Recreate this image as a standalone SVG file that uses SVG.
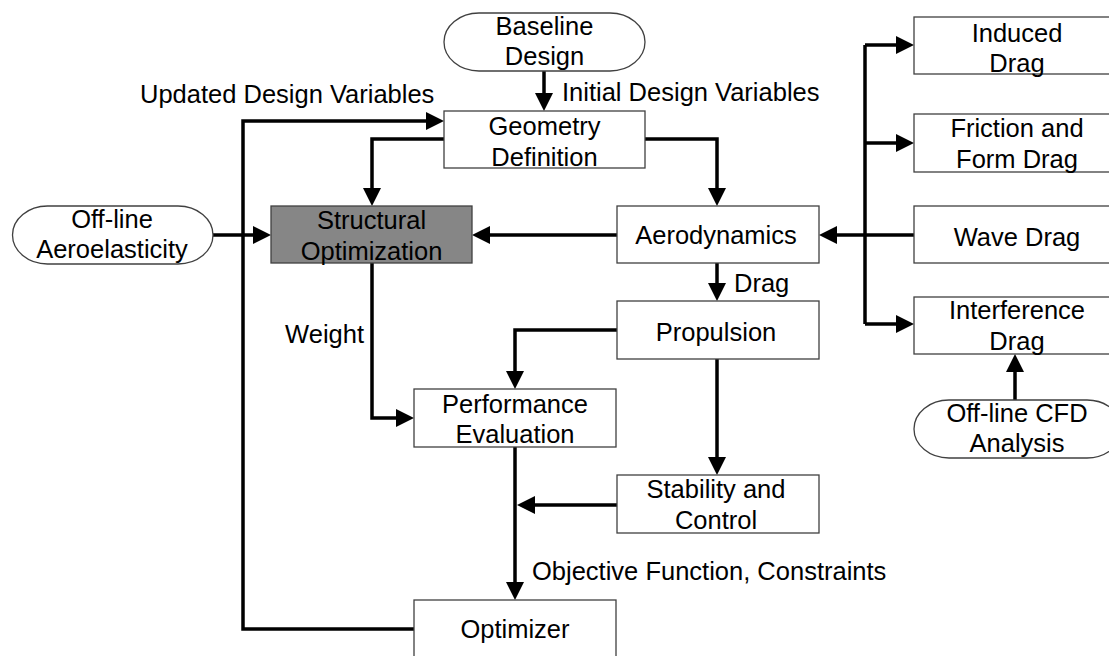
<svg xmlns="http://www.w3.org/2000/svg" width="1109" height="656" viewBox="0 0 1109 656">
<style>
text{font-family:"Liberation Sans",Arial,sans-serif;font-size:25.5px;fill:#000}
.n text{text-anchor:middle}
.box{fill:#fff;stroke:#404040;stroke-width:1.3}
.gray{fill:#868686;stroke:#404040;stroke-width:1.3}
.c path{fill:none;stroke:#000;stroke-width:3.5}
.a{marker-end:url(#ah)}
</style>
<defs>
<marker id="ah" markerUnits="userSpaceOnUse" markerWidth="18" markerHeight="18" refX="14" refY="9" orient="auto">
<path d="M0,0 L18,9 L0,18 z" fill="#000"/>
</marker>
</defs>
<rect width="1109" height="656" fill="#fff"/>
<g id="connectors" class="c">
<path class="a" d="M544,71 V107"/>
<path class="a" d="M414,629 H243 V121 H440"/>
<path class="a" d="M444,139 H372 V202"/>
<path class="a" d="M645,139 H717 V202"/>
<path class="a" d="M617,235 H476"/>
<path class="a" d="M213,235 H267"/>
<path class="a" d="M372,263 V418 H410"/>
<path class="a" d="M717,263 V297"/>
<path class="a" d="M617,330 H515 V385"/>
<path class="a" d="M717,359 V471"/>
<path class="a" d="M617,505 H521"/>
<path class="a" d="M515,447 V596"/>
<path class="a" d="M914,235 H823"/>
<path d="M865,45 V324"/>
<path class="a" d="M865,45 H910"/>
<path class="a" d="M865,143 H910"/>
<path class="a" d="M865,324 H910"/>
<path class="a" d="M1015,400 V358"/>
</g>
<g id="labels">
<text x="140" y="103">Updated Design Variables</text>
<text x="562" y="101">Initial Design Variables</text>
<text x="734" y="292">Drag</text>
<text x="364" y="343" text-anchor="end">Weight</text>
<text x="532" y="580">Objective Function, Constraints</text>
</g>
<g id="baseline" class="n">
<rect class="box" x="444" y="13" width="201" height="58" rx="35" ry="29"/>
<text x="544.5" y="35">Baseline</text>
<text x="544.5" y="65">Design</text>
</g>
<g id="geometry" class="n">
<rect class="box" x="444" y="111" width="201" height="57"/>
<text x="544.5" y="135">Geometry</text>
<text x="544.5" y="166">Definition</text>
</g>
<g id="aeroelasticity" class="n">
<rect class="box" x="12.5" y="206" width="200.5" height="58" rx="35" ry="29"/>
<text x="112" y="228">Off-line</text>
<text x="112" y="258">Aeroelasticity</text>
</g>
<g id="structural" class="n">
<rect class="gray" x="271" y="206" width="201" height="57"/>
<text x="371.5" y="229">Structural</text>
<text x="371.5" y="260">Optimization</text>
</g>
<g id="aerodynamics" class="n">
<rect class="box" x="617" y="206" width="202" height="57"/>
<text x="716" y="244">Aerodynamics</text>
</g>
<g id="propulsion" class="n">
<rect class="box" x="617" y="301" width="202" height="58"/>
<text x="716" y="341">Propulsion</text>
</g>
<g id="performance" class="n">
<rect class="box" x="414" y="389" width="202" height="58"/>
<text x="515" y="413">Performance</text>
<text x="515" y="443">Evaluation</text>
</g>
<g id="stability" class="n">
<rect class="box" x="617" y="475" width="202" height="58"/>
<text x="716" y="498">Stability and</text>
<text x="716" y="529">Control</text>
</g>
<g id="optimizer" class="n">
<rect class="box" x="414" y="600" width="202" height="60"/>
<text x="515" y="638">Optimizer</text>
</g>
<g id="induced" class="n">
<rect class="box" x="914" y="17" width="208" height="57"/>
<text x="1017" y="42">Induced</text>
<text x="1017" y="72">Drag</text>
</g>
<g id="friction" class="n">
<rect class="box" x="914" y="114" width="208" height="58"/>
<text x="1017" y="137">Friction and</text>
<text x="1017" y="168">Form Drag</text>
</g>
<g id="wave" class="n">
<rect class="box" x="914" y="206" width="208" height="57"/>
<text x="1017" y="246">Wave Drag</text>
</g>
<g id="interference" class="n">
<rect class="box" x="914" y="297" width="208" height="57"/>
<text x="1017" y="319">Interference</text>
<text x="1017" y="350">Drag</text>
</g>
<g id="cfd" class="n">
<rect class="box" x="914" y="400" width="208" height="58" rx="35" ry="29"/>
<text x="1017" y="422">Off-line CFD</text>
<text x="1017" y="452">Analysis</text>
</g>
</svg>
